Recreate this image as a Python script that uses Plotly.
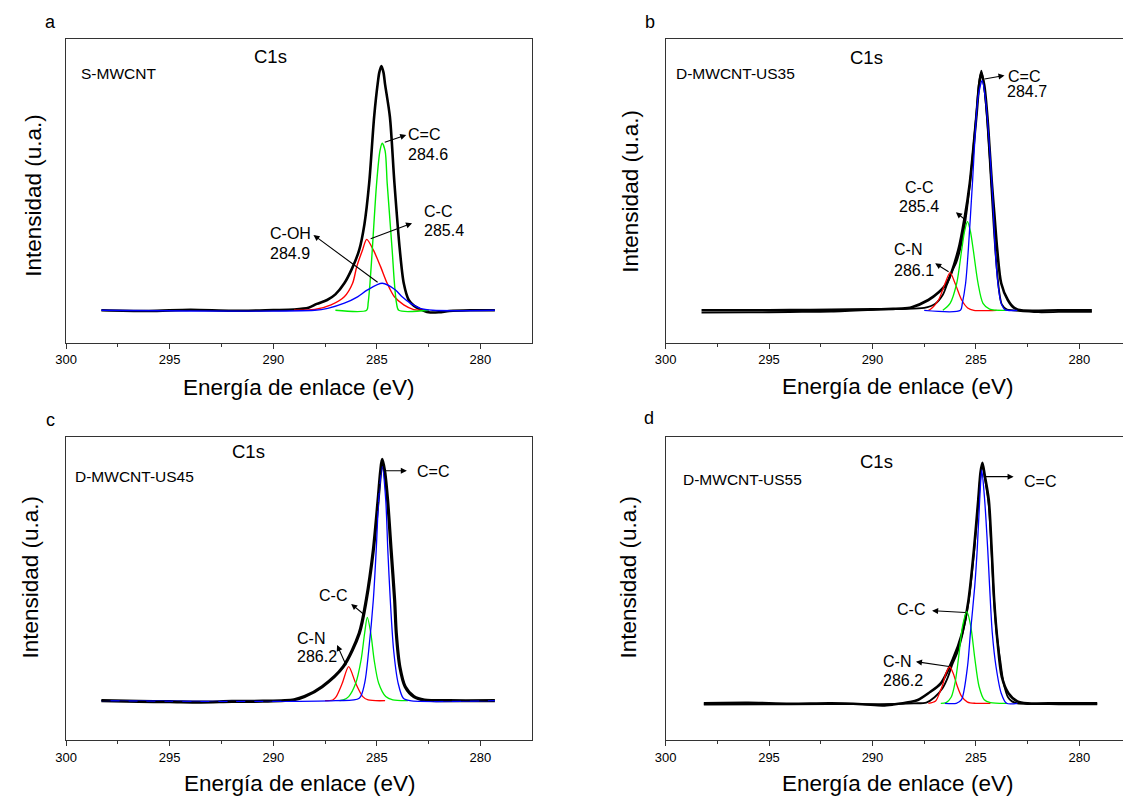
import plotly.graph_objects as go

W, H = 1123, 798
FONT = "Liberation Sans, Arial, sans-serif"

# ---------------- data (binding energy eV, intensity a.u. with baseline = 0) -------------
# Panel a  S-MWCNT
a_exp_x = [298.3, 296.0, 294.0, 292.0, 290.0, 289.0, 288.3, 287.9, 287.4, 287.0, 286.57, 286.2, 285.85, 285.6,
           285.37, 285.13, 284.95, 284.88, 284.78, 284.68, 284.6, 284.37, 284.15, 283.89, 283.70, 283.46, 283.2,
           282.92, 282.5, 282.0, 281.5, 280.5, 279.3]
a_exp_y = [0, -0.3, 0.2, -0.2, 0.1, 0.3, 1.0, 2.6, 4.2, 6.5, 11.0, 17.0, 24.6, 35.0, 51.8, 78.9, 93.0, 97.0, 99.6,
           97.0, 92.0, 78.9, 51.8, 24.6, 11.0, 4.2, 1.8, 0.5, -0.8, -0.8, -0.3, 0, 0]
a_cc2_x = [287.0, 285.49, 285.42, 285.33, 285.22, 285.01, 284.85, 284.74, 284.6, 284.5, 284.26, 284.15, 284.05, 283.94, 282.5]
a_cc2_y = [0, 0, 2.9, 11, 24.6, 51.8, 65, 68.1, 65, 51.8, 24.6, 11, 2.9, 0, 0]
a_cc_x = [289.0, 288.0, 287.21, 286.57, 286.17, 285.97, 285.69, 285.49, 285.17, 284.82, 284.5, 284.15, 283.7, 283.22, 282.5]
a_cc_y = [0, 0.3, 2.2, 5.5, 11, 17.8, 24.6, 28.9, 24.6, 17.8, 11, 5.5, 2.2, 0.3, 0]
a_coh_x = [298.3, 288.0, 287.37, 286.57, 285.93, 285.45, 284.74, 284.10, 283.78, 283.38, 282.91, 282.3, 279.3]
a_coh_y = [0, 0, 0.8, 2.9, 5.5, 8.3, 11.0, 8.3, 5.5, 2.9, 0.8, 0, 0]

# Panel b  D-MWCNT-US35
b_exp_x = [298.26, 296.0, 294.0, 292.0, 290.0, 289.0, 288.5, 287.5, 287.0, 286.6, 286.35, 286.15, 285.95, 285.75,
           285.5, 285.3, 285.0, 284.85, 284.74, 284.6, 284.45, 284.25, 284.12, 284.0, 283.88, 283.75, 283.5, 283.2,
           282.0, 280.5, 279.4]
b_exp_y = [-1.0, -0.9, -0.7, -0.5, 0.2, 0.6, 0.6, 1.0, 2.5, 6.5, 12.0, 16.5, 20.0, 26.0, 38.0, 52.0, 80.0, 95.0,
           100.0, 93.0, 78.0, 50.0, 32.0, 18.0, 8.0, 2.5, 0.3, 0, -0.8, -0.6, -0.6]
b_env_x = [298.26, 296.0, 294.0, 292.0, 290.0, 289.0, 288.6, 288.1, 287.3, 286.8, 286.41, 285.85, 285.54, 285.30,
           284.98, 284.85, 284.74, 284.6, 284.45, 284.23, 284.10, 283.97, 283.78, 283.46, 283.15, 282.8, 281.0, 279.4]
b_env_y = [0, 0, 0.1, 0.2, 0.4, 0.6, 0.7, 1.3, 4.3, 7.5, 11.3, 25.2, 39.0, 53.0, 81.0, 94.0, 99.0, 94.0, 81.0,
           53.0, 39.0, 25.2, 11.3, 4.3, 1.0, 0, 0, 0]
b_cc2_x = [287.5, 285.75, 285.66, 285.5, 285.37, 285.17, 284.9, 284.70, 284.55, 284.23, 284.07, 283.94, 283.78, 283.6, 283.0]
b_cc2_y = [0, 0, 2.9, 11.3, 25.2, 53, 88.8, 95.8, 88.8, 53, 25.2, 11.3, 2.9, 0.3, 0]
b_cc_x = [286.6, 286.25, 285.93, 285.69, 285.55, 285.41, 285.27, 285.13, 284.9, 284.66, 284.34, 283.5]
b_cc_y = [0, 2.9, 11.3, 25.2, 33, 37, 33, 25.2, 11.3, 2.9, 0.5, 0]
b_cn_x = [287.3, 287.21, 286.81, 286.49, 286.25, 286.01, 285.69, 285.4, 285.1, 284.0]
b_cn_y = [0, 0.3, 4.3, 11.3, 15.7, 11.3, 4.3, 1.0, 0, 0]

# Panel c  D-MWCNT-US45
c_exp_x = [298.3, 296.5, 295.0, 293.5, 292.0, 290.5, 289.0, 288.49, 287.64, 286.62, 285.85, 285.51, 285.17, 284.94,
           284.82, 284.74, 284.62, 284.48, 284.31, 284.14, 284.06, 283.89, 283.63, 283.21, 282.7, 281.5, 279.3]
c_exp_y = [0, -0.3, -0.4, -0.6, -0.3, -0.2, 0.4, 1.7, 5.8, 14.1, 27.9, 41.7, 62.4, 83.2, 95.0, 100.0, 95.0, 83.2,
           62.4, 41.7, 27.9, 14.1, 5.8, 1.7, 0.3, 0, 0]
c_cc2_x = [298.3, 287.0, 285.85, 285.59, 285.39, 285.17, 285.03, 284.91, 284.74, 284.57, 284.47, 284.35, 284.19,
           283.97, 283.72, 283.4, 279.3]
c_cc2_y = [0, 0, 1, 7.2, 21, 41.7, 62.4, 83.2, 97, 83.2, 62.4, 41.7, 21, 7.2, 1, 0, 0]
c_cc_x = [286.8, 286.62, 286.36, 286.02, 285.76, 285.59, 285.46, 285.29, 285.13, 284.91, 284.57, 284.23, 283.5]
c_cc_y = [0, 0.3, 1.7, 7.2, 16.9, 27.9, 34.5, 27.9, 16.9, 7.2, 1.7, 0.3, 0]
c_cn_x = [287.5, 287.13, 286.96, 286.67, 286.36, 286.02, 285.68, 285.42, 284.6]
c_cn_y = [0, 0.3, 1.7, 7.2, 14.1, 7.2, 1.7, 0.3, 0]

# Panel d  D-MWCNT-US55
d_env_x = [298.15, 296.0, 294.0, 292.0, 290.5, 289.5, 289.0, 288.2, 287.81, 287.30, 286.70, 286.13, 285.67, 285.36,
           285.10, 284.89, 284.78, 284.69, 284.58, 284.38, 284.24, 284.12, 283.95, 283.75, 283.43, 283.0, 282.5,
           281.0, 279.14]
d_env_y = [0, 0.2, -0.2, 0, -0.4, -0.9, -0.5, 0.5, 1.4, 4.2, 8.3, 18.0, 29.1, 42.9, 63.7, 84.5, 96.0, 100.0, 95.0,
           84.5, 63.7, 42.9, 25.0, 11.0, 4.2, 0.8, 0, 0, 0]
d_exp_x = [298.15, 294.0, 290.0, 288.0, 287.4, 287.0, 286.6, 286.35, 286.15, 285.9, 285.67, 285.36, 285.1, 284.89,
           284.78, 284.69, 284.58, 284.38, 284.24, 284.12, 284.0, 283.83, 283.66, 283.45, 283.26, 283.0, 281.0, 279.14]
d_exp_y = [-0.5, -0.4, -0.3, 0, 0.3, 2.5, 6.5, 11.0, 16.0, 21.0, 28.0, 42.0, 62.0, 83.0, 95.0, 99.0, 94.0, 82.0,
           62.0, 42.0, 29.0, 18.0, 8.3, 2.5, 0.8, 0, -0.4, -0.4]
d_cc2_x = [286.5, 285.95, 285.7, 285.41, 285.27, 285.06, 284.94, 284.82, 284.72, 284.58, 284.43, 284.34, 284.21,
           284.03, 283.78, 283.52, 283.0]
d_cc2_y = [0, 0, 1.5, 15.2, 29.1, 48.5, 63.7, 84.5, 97, 84.5, 63.7, 48.5, 29.1, 15.2, 4.2, 0, 0]
d_cc_x = [286.7, 286.44, 286.2, 286.0, 285.84, 285.65, 285.44, 285.25, 285.06, 284.85, 284.6, 284.3, 283.5]
d_cc_y = [0, 0.3, 2.5, 9, 19, 32, 38.1, 32, 19, 7, 1.5, 0.3, 0]
d_cn_x = [287.3, 286.95, 286.75, 286.61, 286.45, 286.27, 286.1, 285.92, 285.7, 285.41, 285.0, 284.3]
d_cn_y = [0, 1, 4.5, 7.6, 12.5, 15.2, 12.5, 7.6, 3, 0.5, 0, 0]

# tick labels
x_tickvals = [300, 295, 290, 285, 280]
x_minorvals = [297.5, 292.5, 287.5, 282.5, 277.5]

panel_letters = ["a", "b", "c", "d"]
sample_names = ["S-MWCNT", "D-MWCNT-US35", "D-MWCNT-US45", "D-MWCNT-US55"]
x_title = "Energía de enlace (eV)"
y_title = "Intensidad (u.a.)"
core_level = "C1s"

# peak labels: (text, x, y) left-anchored / centred, in data coords
a_labels = [("C=C", 283.54, 71.5), ("284.6", 283.54, 63.6), ("C-C", 282.75, 40.2), ("285.4", 282.75, 32.7),
            ("C-OH", 290.20, 31.4), ("284.9", 290.20, 23.0)]
b_labels = [("C=C", 283.49, 97.5), ("284.7", 283.56, 91.5)]
b_labels_c = [("C-C", 287.76, 51.3), ("285.4", 287.74, 43.2), ("C-N", 288.30, 25.5), ("286.1", 287.98, 16.8)]
c_labels = [("C=C", 283.12, 94.9), ("C-C", 287.84, 43.8), ("C-N", 288.92, 25.9), ("286.2", 288.92, 18.2)]
d_labels = [("C=C", 282.75, 92.1), ("C-C", 288.84, 39.1), ("C-N", 289.53, 17.3), ("286.2", 289.53, 9.3)]

# arrows: (head_x, head_y, tail_x, tail_y)
a_arrows = [(283.58, 71.5, 284.69, 68.3), (283.30, 35.5, 285.37, 28.9), (288.06, 30.7, 284.89, 11.0)]
b_arrows = [(283.62, 98.0, 284.66, 96.4), (285.97, 40.9, 285.41, 37.0), (286.97, 19.6, 286.25, 15.7)]
c_arrows = [(283.55, 95.3, 284.74, 95.3), (286.24, 40.1, 285.59, 35.5), (286.92, 23.1, 286.45, 14.1)]
d_arrows = [(283.18, 94.2, 284.69, 94.2), (287.12, 38.5, 285.44, 37.7), (287.90, 17.3, 286.23, 15.2)]

# ---------------- layout geometry (pixels) ----------------
# frames: left, right, top, bottom
frames = {
    1: (55.7, 525.7, 39.0, 342.7),
    2: (661.0, 1123.0, 39.0, 342.7),
    3: (55.7, 525.7, 436.5, 740.0),
    4: (661.0, 1123.0, 436.5, 740.0),
}
x_ranges = {1: [300, 277.53], 2: [300, 277.895], 3: [300, 277.53], 4: [300, 277.895]}
y_ranges = {1: [-13.21, 110.60], 2: [-13.52, 113.23], 3: [-16.29, 109.49], 4: [-15.25, 110.89]}

BLACK = "#000000"
RED = "#ff0000"
GREEN = "#00ee00"
BLUE = "#0000ff"

fig = go.Figure()


def add_line(i, xs, ys, color, width, dash="solid"):
    sfx = "" if i == 1 else str(i)
    fig.add_trace(go.Scatter(x=xs, y=ys, mode="lines", line=dict(color=color, width=width, dash=dash,
                                                                 shape="spline", smoothing=0.8),
                             xaxis="x" + sfx, yaxis="y" + sfx, showlegend=False, hoverinfo="skip"))


# panel a
add_line(1, a_exp_x, a_exp_y, BLACK, 2.6)
add_line(1, a_cc_x, a_cc_y, RED, 1.4)
add_line(1, a_cc2_x, a_cc2_y, GREEN, 1.4)
add_line(1, a_coh_x, a_coh_y, BLUE, 1.4)
# panel b
add_line(2, b_exp_x, b_exp_y, BLACK, 1.8)
add_line(2, b_env_x, b_env_y, BLACK, 2.6)
add_line(2, b_cn_x, b_cn_y, RED, 1.3)
add_line(2, b_cc_x, b_cc_y, GREEN, 1.3)
add_line(2, b_cc2_x, b_cc2_y, BLUE, 1.3)
# panel c
add_line(3, c_exp_x, c_exp_y, BLACK, 3.2)
add_line(3, c_cn_x, c_cn_y, RED, 1.3)
add_line(3, c_cc_x, c_cc_y, GREEN, 1.3)
add_line(3, c_cc2_x, c_cc2_y, BLUE, 1.3)
add_line(3, c_exp_x, c_exp_y, BLACK, 1.2, dash="dash")
# panel d
add_line(4, d_exp_x, d_exp_y, BLACK, 1.8)
add_line(4, d_env_x, d_env_y, BLACK, 2.6)
add_line(4, d_cn_x, d_cn_y, RED, 1.3)
add_line(4, d_cc_x, d_cc_y, GREEN, 1.3)
add_line(4, d_cc2_x, d_cc2_y, BLUE, 1.3)

layout = dict(width=W, height=H, margin=dict(l=0, r=0, t=0, b=0), autosize=False,
              paper_bgcolor="white", plot_bgcolor="white", showlegend=False,
              font=dict(family=FONT, color="black"))
AXC = "#333333"
for i in range(1, 5):
    l, r, t, b = frames[i]
    sfx = "" if i == 1 else str(i)
    layout["xaxis" + sfx] = dict(
        domain=[l / W, min(r / W, 1.0)], range=x_ranges[i], anchor="y" + sfx,
        showline=True, linecolor=AXC, linewidth=1.3, mirror=True,
        showgrid=False, zeroline=False,
        tickmode="array", tickvals=x_tickvals, ticktext=[str(v) for v in x_tickvals],
        ticks="outside", ticklen=5, tickwidth=1.3, tickcolor=AXC,
        tickfont=dict(family=FONT, size=13, color="black"),
        minor=dict(tickmode="array", tickvals=x_minorvals, ticks="outside", ticklen=3,
                   tickwidth=1.1, tickcolor=AXC, showgrid=False),
    )
    layout["yaxis" + sfx] = dict(
        domain=[1 - b / H, 1 - t / H], range=y_ranges[i], anchor="x" + sfx,
        showline=True, linecolor=AXC, linewidth=1.3, mirror=(i in (1, 3)),
        showgrid=False, zeroline=False, showticklabels=False, ticks="",
    )
fig.update_layout(**layout)

ann = []


def paper_text(text, x, y, size, xanchor="center", angle=0):
    ann.append(dict(text=text, x=x / W, y=1 - y / H, xref="paper", yref="paper", showarrow=False,
                    xanchor=xanchor, yanchor="middle", textangle=angle,
                    font=dict(family=FONT, size=size, color="black")))


letter_pos = [(40, 22), (645, 22), (40, 420), (644, 418)]
c1s_pos = [(261.7, 56.7), (863.5, 57.3), (240, 451.7), (873.6, 461)]
name_pos = [(69, 74), (670, 73.3), (63, 476.7), (677, 479)]
xt_pos = [(290.7, 387), (895, 386.7), (291, 783), (895, 783)]
yt_pos = [(22, 195), (626, 190.8), (20, 576.7), (624, 576.7)]
for k in range(4):
    paper_text(panel_letters[k], *letter_pos[k], 18)
    paper_text(core_level, *c1s_pos[k], 18.5)
    paper_text(sample_names[k], *name_pos[k], 15.5, xanchor="left")
    paper_text(x_title, *xt_pos[k], 22.5)
    paper_text(y_title, *yt_pos[k], 22.5, angle=-90)


def data_text(i, text, x, y, xanchor="left"):
    sfx = "" if i == 1 else str(i)
    ann.append(dict(text=text, x=x, y=y, xref="x" + sfx, yref="y" + sfx, showarrow=False,
                    xanchor=xanchor, yanchor="middle", borderpad=0,
                    font=dict(family=FONT, size=16, color="black")))


def data_arrow(i, hx, hy, tx, ty):
    sfx = "" if i == 1 else str(i)
    ann.append(dict(text="", x=hx, y=hy, ax=tx, ay=ty, xref="x" + sfx, yref="y" + sfx,
                    axref="x" + sfx, ayref="y" + sfx, showarrow=True, arrowhead=2, arrowsize=1.1,
                    arrowwidth=1.1, arrowcolor="black", standoff=0, startstandoff=0))


for t, x, y in a_labels:
    data_text(1, t, x, y)
for t, x, y in b_labels:
    data_text(2, t, x, y)
for t, x, y in b_labels_c:
    data_text(2, t, x, y, xanchor="center")
for t, x, y in c_labels:
    data_text(3, t, x, y)
for t, x, y in d_labels:
    data_text(4, t, x, y)
for i, arr in zip(range(1, 5), [a_arrows, b_arrows, c_arrows, d_arrows]):
    for hx, hy, tx, ty in arr:
        data_arrow(i, hx, hy, tx, ty)

fig.update_layout(annotations=ann)
fig.write_html("out.html")
